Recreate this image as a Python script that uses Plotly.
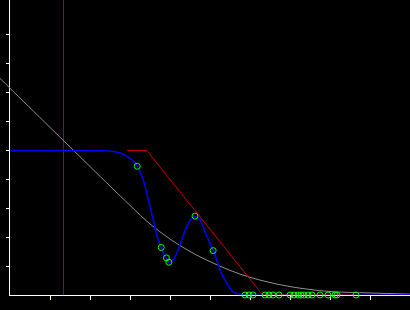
import plotly.graph_objects as go

# ---- data ----
gray_x = [-0.25, 0, 1.0, 2.0, 3.0, 3.5, 4.0, 4.5, 5.0, 5.5, 6.0, 6.5, 7.0, 7.5, 8.0, 9.0, 10]
gray_y = [7.47, 7.13, 5.78, 4.43, 3.09, 2.45, 1.93, 1.50, 1.15, 0.85, 0.61, 0.43, 0.29, 0.19, 0.12, 0.07, 0.03]

blue_x = [0, 2.375, 2.625, 2.825, 3.0, 3.125, 3.18, 3.25, 3.33, 3.46, 3.58, 3.68, 3.78, 3.875, 3.96,
          4.04, 4.17, 4.29, 4.42, 4.54, 4.63, 4.75, 4.875, 5.0, 5.08, 5.17, 5.25, 5.42, 5.58, 5.75, 5.875, 10]
blue_y = [4.98, 4.97, 4.94, 4.86, 4.71, 4.56, 4.44, 4.25, 3.97, 3.28, 2.59, 2.01, 1.64, 1.32, 1.13,
          1.15, 1.44, 1.90, 2.36, 2.64, 2.71, 2.59, 2.18, 1.78, 1.54, 1.21, 0.86, 0.40, 0.11, 0.02, 0.0, 0.0]

red_x = [2.925, 3.42, 6.32, 8.66]
red_y = [4.98, 4.98, 0.0, 0.0]

green_x = [3.18, 3.78, 3.91, 3.97, 4.625, 5.08,
           5.875, 5.975, 6.075, 6.375, 6.475, 6.575, 6.725, 7.0, 7.1, 7.2, 7.275, 7.35, 7.45, 7.55,
           7.75, 7.95, 8.125, 8.175, 8.65]
green_y = [4.44, 1.64, 1.28, 1.13, 2.72, 1.53] + [0.0] * 19

vline_x = [1.3375, 1.3375]
vline_y = [0, 10.2]

x_ticks = [1, 2, 3, 4, 5, 6, 7, 8, 9]
y_ticks = [1, 2, 3, 4, 5, 6, 7, 8, 9]

fig = go.Figure()
fig.add_trace(go.Scatter(x=[None], y=[None], xaxis="x", yaxis="y", showlegend=False, hoverinfo="skip"))
fig.add_trace(go.Scatter(x=vline_x, y=vline_y, mode="lines", line=dict(color="#800080", width=1),
                         xaxis="x2", yaxis="y", showlegend=False))
fig.add_trace(go.Scatter(x=gray_x, y=gray_y, mode="lines", line=dict(color="#909090", width=1, shape="spline"),
                         xaxis="x2", yaxis="y", showlegend=False))
fig.add_trace(go.Scatter(x=blue_x, y=blue_y, mode="lines", line=dict(color="#0000ff", width=1.5, shape="spline", smoothing=0.6),
                         xaxis="x2", yaxis="y", showlegend=False))
fig.add_trace(go.Scatter(x=red_x, y=red_y, mode="lines", line=dict(color="#c80000", width=1),
                         xaxis="x2", yaxis="y", showlegend=False))
fig.add_trace(go.Scatter(x=green_x, y=green_y, mode="markers", cliponaxis=False,
                         marker=dict(symbol="circle-open", size=6, color="#00ff00", line=dict(width=1, color="#00ff00")),
                         xaxis="x2", yaxis="y", showlegend=False))

fig.update_layout(
    width=410, height=310,
    margin=dict(l=0, r=0, t=0, b=15),
    paper_bgcolor="black", plot_bgcolor="rgba(0,0,0,0)",
    showlegend=False,
    xaxis=dict(domain=[10 / 410, 1], range=[0, 10], anchor="y", showline=True, linecolor="white", linewidth=1,
               ticks="outside", ticklen=4, tickwidth=1, tickcolor="white", tickvals=x_ticks,
               showticklabels=False, showgrid=False, zeroline=False, layer="below traces"),
    xaxis2=dict(domain=[0, 1], range=[-0.25, 10], anchor="y", visible=False, showgrid=False, zeroline=False),
    yaxis=dict(domain=[0, 1], range=[0, 295 / 29], anchor="x", showline=True, linecolor="white", linewidth=1,
               ticks="outside", ticklen=3, tickwidth=1, tickcolor="white", tickvals=y_ticks,
               showticklabels=False, showgrid=False, zeroline=False, layer="above traces"),
)

fig.write_html("out.html")
